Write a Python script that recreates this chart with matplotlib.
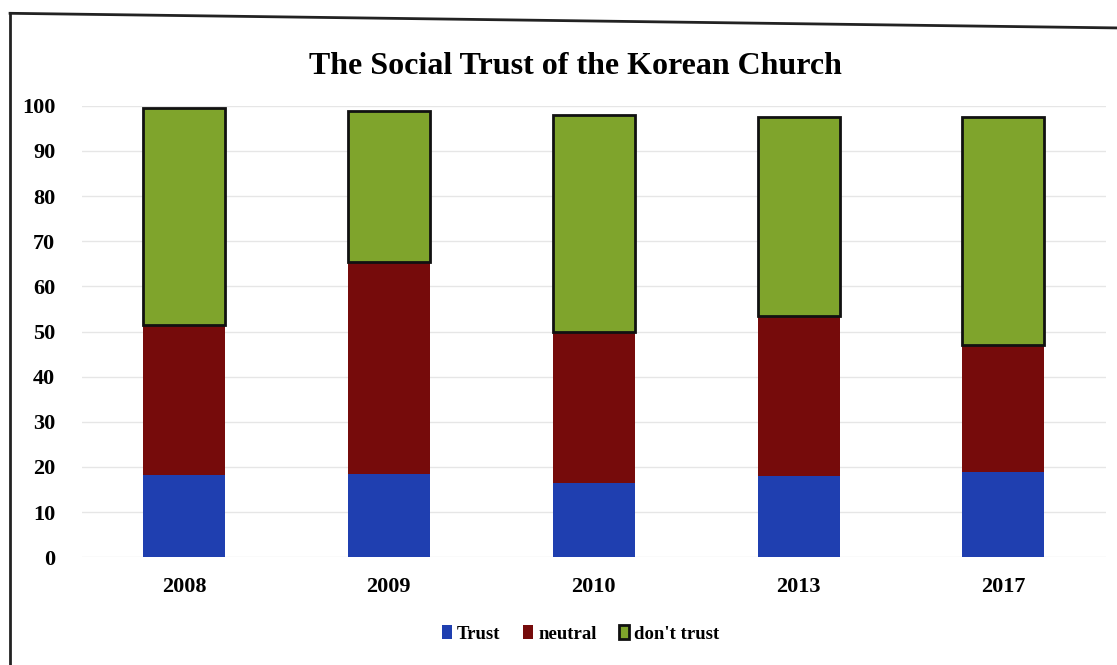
import numpy as np
import matplotlib.pyplot as plt
from matplotlib.lines import Line2D

# survey results by year (percent)
years = ['2008', '2009', '2010', '2013', '2017']
trust = [18.2, 18.4, 16.4, 18.0, 18.8]
neutral = [33.2, 47.0, 33.5, 35.4, 28.2]
dont_trust = [48.2, 33.5, 48.1, 44.2, 50.6]

plt.rcParams['font.family'] = 'Liberation Serif'
plt.rcParams['font.weight'] = 'bold'

fig = plt.figure(figsize=(11.17, 6.65), dpi=100)
ax = fig.add_axes([0.073, 0.162, 0.917, 0.679])

x = np.arange(len(years))
w = 0.4
b1 = np.array(trust)
b2 = b1 + np.array(neutral)

ax.bar(x, trust, w, color='#1f3fb0', label='Trust', zorder=2)
ax.bar(x, neutral, w, bottom=b1, color='#760b0b', label='neutral', zorder=2)
ax.bar(x, dont_trust, w, bottom=b2, color='#7fa42c', edgecolor='#111111',
       linewidth=2, label="don't trust", zorder=3)

ax.set_xlim(-0.5, len(years) - 0.5)
ax.set_ylim(0, 100)
ax.set_yticks(range(0, 101, 10))
ax.set_xticks(x)
ax.set_xticklabels(years)
ax.tick_params(length=0, labelsize=16, pad=14)
ax.tick_params(axis='y', pad=19)
ax.grid(axis='y', color='#e6e6e6', linewidth=1, zorder=0)
for s in ax.spines.values():
    s.set_visible(False)

fig.text(0.515, 0.9, 'The Social Trust of the Korean Church', ha='center',
         va='center', fontsize=23)

leg = fig.legend(loc='center', bbox_to_anchor=(0.52, 0.047), ncol=3,
                 frameon=False, fontsize=13.5, handlelength=0.5,
                 handleheight=0.8, handletextpad=0.3, columnspacing=1.2)

# frame around the figure (top and left edges)
fig.add_artist(Line2D([0.009, 1.0], [0.98, 0.958], color='#222222', linewidth=2))
fig.add_artist(Line2D([0.009, 0.009], [0.0, 0.98], color='#222222', linewidth=2))

fig.savefig('out.png', dpi=100)
